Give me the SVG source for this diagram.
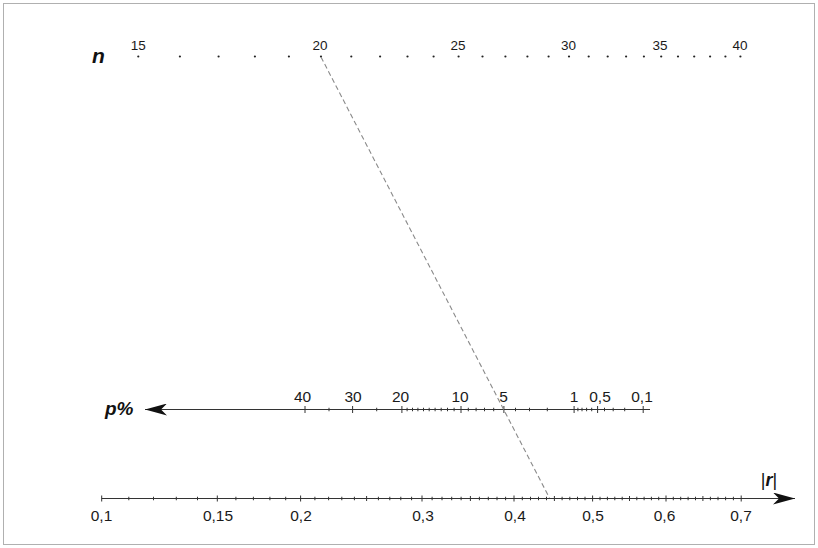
<svg xmlns="http://www.w3.org/2000/svg" width="818" height="548" viewBox="0 0 818 548">
<style>
.lbl{font-family:"Liberation Sans",Arial,sans-serif;fill:#1a1a1a;text-anchor:middle}
.nl{font-size:13.5px}
.al{font-size:15.5px}
.title{font-family:"Liberation Sans",Arial,sans-serif;font-weight:bold;font-style:italic;fill:#111}
.axis{stroke:#333;stroke-width:1;fill:none}
.tick{stroke:#333;stroke-width:1;fill:none}
.dot{fill:#222}
.conn{stroke:#8a8a8a;stroke-width:1.1;stroke-dasharray:5 3;fill:none}
</style>
<defs>
<marker id="arrow" viewBox="0 0 22 12" refX="22" refY="6" markerWidth="22" markerHeight="12" orient="auto" markerUnits="userSpaceOnUse">
<path d="M0,0 L22,6 L0,12 L6,6 Z" fill="#111"/>
</marker>
</defs>
<rect x="3.5" y="3.5" width="811" height="541" fill="#fff" stroke="#b0b0b0" stroke-width="1"/>

<g id="n-scale">
<text class="title" x="92" y="63" font-size="21">n</text>
<g class="dot">
<circle cx="138.3" cy="56.5" r="1.1"/><circle cx="179.9" cy="56.5" r="1.1"/><circle cx="218.6" cy="56.5" r="1.1"/><circle cx="254.9" cy="56.5" r="1.1"/><circle cx="288.9" cy="56.5" r="1.1"/><circle cx="321" cy="56.5" r="1.1"/><circle cx="351.3" cy="56.5" r="1.1"/><circle cx="380.1" cy="56.5" r="1.1"/><circle cx="407.5" cy="56.5" r="1.1"/><circle cx="433.6" cy="56.5" r="1.1"/><circle cx="458.6" cy="56.5" r="1.1"/><circle cx="482.5" cy="56.5" r="1.1"/><circle cx="505.4" cy="56.5" r="1.1"/><circle cx="527.4" cy="56.5" r="1.1"/><circle cx="548.6" cy="56.5" r="1.1"/><circle cx="569" cy="56.5" r="1.1"/><circle cx="588.7" cy="56.5" r="1.1"/><circle cx="607.7" cy="56.5" r="1.1"/><circle cx="626.1" cy="56.5" r="1.1"/><circle cx="643.9" cy="56.5" r="1.1"/><circle cx="661.2" cy="56.5" r="1.1"/><circle cx="678" cy="56.5" r="1.1"/><circle cx="694.2" cy="56.5" r="1.1"/><circle cx="710.1" cy="56.5" r="1.1"/><circle cx="725.4" cy="56.5" r="1.1"/><circle cx="740.4" cy="56.5" r="1.1"/>
</g>
<text class="lbl nl" x="138.3" y="50">15</text>
<text class="lbl nl" x="320" y="50">20</text>
<text class="lbl nl" x="458" y="50">25</text>
<text class="lbl nl" x="568.5" y="50">30</text>
<text class="lbl nl" x="660" y="50">35</text>
<text class="lbl nl" x="740" y="50">40</text>
</g>

<g id="p-scale">
<text class="title" x="105" y="415" font-size="19">p%</text>
<path class="axis" d="M650 409.5 H145" marker-end="url(#arrow)"/>
<path class="tick" d="M305 406v7M352.6 406v7M401.9 406v7M461 406v7M503.9 406v7M574.1 406v7M597.6 406v7M643.2 406v7"/>
<path class="tick" d="M329 407.75v3.5M376.7 407.75v3.5M407.1 407.75v3.5M412.5 407.75v3.5M417.9 407.75v3.5M423.5 407.75v3.5M429.2 407.75v3.5M435.1 407.75v3.5M441.2 407.75v3.5M447.5 407.75v3.5M454.1 407.75v3.5M468.3 407.75v3.5M476.1 407.75v3.5M484.5 407.75v3.5M493.7 407.75v3.5M515.5 407.75v3.5M529.5 407.75v3.5M547.3 407.75v3.5M577.9 407.75v3.5M582 407.75v3.5M586.6 407.75v3.5M591.7 407.75v3.5M604.5 407.75v3.5M613.2 407.75v3.5M624.7 407.75v3.5"/>
<text class="lbl al" x="302.5" y="401.5">40</text>
<text class="lbl al" x="353" y="401.5">30</text>
<text class="lbl al" x="400.5" y="401.5">20</text>
<text class="lbl al" x="460" y="401.5">10</text>
<text class="lbl al" x="503.5" y="401.5">5</text>
<text class="lbl al" x="574" y="401.5">1</text>
<text class="lbl al" x="600" y="401.5">0,5</text>
<text class="lbl al" x="642" y="401.5">0,1</text>
</g>

<g id="r-scale">
<path class="axis" d="M101.7 498.5 H795" marker-end="url(#arrow)"/>
<path class="tick" d="M101.7 495.5v6M217.3 495.5v6M300.6 495.5v6M422 495.5v6M514 495.5v6M592.6 495.5v6M666 495.5v6M741.2 495.5v6"/>
<path class="tick" d="M366.6 496v5M470.4 496v5M554.4 496v5M629.5 496v5M702.9 496v5"/>
<path class="tick" d="M128.8 496.75v3.5M153.5 496.75v3.5M176.3 496.75v3.5M197.5 496.75v3.5M235.9 496.75v3.5M253.4 496.75v3.5M269.9 496.75v3.5M285.7 496.75v3.5M314.9 496.75v3.5M328.6 496.75v3.5M341.8 496.75v3.5M354.4 496.75v3.5M378.4 496.75v3.5M389.8 496.75v3.5M400.8 496.75v3.5M411.6 496.75v3.5M432.1 496.75v3.5M442 496.75v3.5M451.7 496.75v3.5M461.1 496.75v3.5M479.4 496.75v3.5M488.3 496.75v3.5M497 496.75v3.5M505.6 496.75v3.5M522.3 496.75v3.5M530.5 496.75v3.5M538.5 496.75v3.5M546.5 496.75v3.5M562.1 496.75v3.5M569.8 496.75v3.5M577.5 496.75v3.5M585 496.75v3.5M600 496.75v3.5M607.4 496.75v3.5M614.8 496.75v3.5M622.2 496.75v3.5M636.8 496.75v3.5M644.1 496.75v3.5M651.4 496.75v3.5M658.7 496.75v3.5M673.3 496.75v3.5M680.7 496.75v3.5M688.1 496.75v3.5M695.5 496.75v3.5M710.4 496.75v3.5M718 496.75v3.5M725.6 496.75v3.5M733.4 496.75v3.5"/>
<text class="lbl al" x="101.5" y="521">0,1</text>
<text class="lbl al" x="218" y="521">0,15</text>
<text class="lbl al" x="301" y="521">0,2</text>
<text class="lbl al" x="423" y="521">0,3</text>
<text class="lbl al" x="515" y="521">0,4</text>
<text class="lbl al" x="593" y="521">0,5</text>
<text class="lbl al" x="664.5" y="521">0,6</text>
<text class="lbl al" x="741" y="521">0,7</text>
<text x="769" y="486" text-anchor="middle" font-size="18" font-family="'Liberation Sans',Arial,sans-serif" fill="#111">|<tspan font-weight="bold" font-style="italic">r</tspan>|</text>
</g>

<g id="connectors">
<path class="conn" d="M321 57 L549.5 498"/>
</g>
</svg>
